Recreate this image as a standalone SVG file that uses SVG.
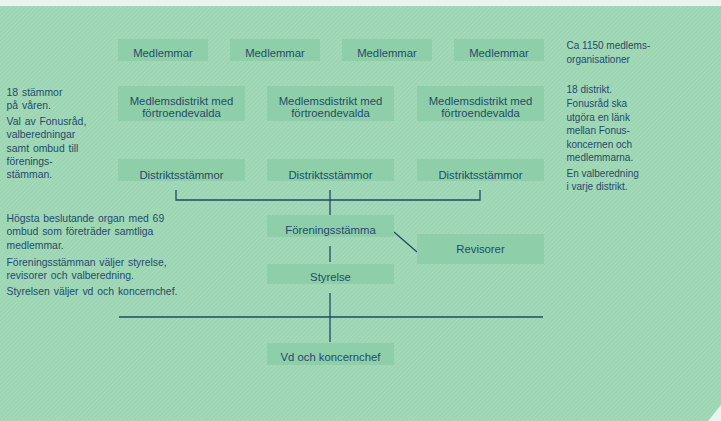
<svg xmlns="http://www.w3.org/2000/svg" width="721" height="421" viewBox="0 0 721 421">
<defs>
<pattern id="hatch" width="3" height="3" patternUnits="userSpaceOnUse" patternTransform="rotate(45)">
<rect width="3" height="3" fill="#9cd5b2"/>
<rect width="1" height="3" fill="#a6dabb"/>
</pattern>
<style>
.box{fill:#8ecfa9}
.lbl{font-family:"Liberation Sans",Arial,sans-serif;font-size:11.3px;fill:#1f4b6c;text-anchor:middle}
.note{font-family:"Liberation Sans",Arial,sans-serif;font-size:10px;fill:#1f4b6c}
.lnote{font-family:"Liberation Sans",Arial,sans-serif;font-size:10.4px;fill:#1f4b6c;word-spacing:1px}
.ln{stroke:#1f4a6a;stroke-width:1.3;fill:none}
</style>
</defs>
<rect width="721" height="421" fill="url(#hatch)"/>
<rect width="721" height="6" fill="#e8f4ed"/>
<polygon points="708,421 721,405 721,421" fill="#e8f4ed"/>

<g id="connectors">
<polyline class="ln" points="176,190 176,200 480,200 480,190"/>
<line class="ln" x1="330" y1="190" x2="330" y2="215"/>
<line class="ln" x1="394" y1="232" x2="417" y2="252"/>
<line class="ln" x1="330" y1="246" x2="330" y2="262"/>
<line class="ln" x1="330" y1="293" x2="330" y2="342"/>
<line class="ln" x1="119" y1="317" x2="543" y2="317"/>
</g>

<g id="medlemmar1"><rect class="box" x="118" y="39" width="90" height="22"/><text class="lbl" x="163" y="57">Medlemmar</text></g>
<g id="medlemmar2"><rect class="box" x="230" y="39" width="90" height="22"/><text class="lbl" x="275" y="57">Medlemmar</text></g>
<g id="medlemmar3"><rect class="box" x="342" y="39" width="90" height="22"/><text class="lbl" x="387" y="57">Medlemmar</text></g>
<g id="medlemmar4"><rect class="box" x="454" y="39" width="90" height="22"/><text class="lbl" x="499" y="57">Medlemmar</text></g>

<g id="distrikt1"><rect class="box" x="118" y="86" width="127" height="35"/><text class="lbl" x="181.5" y="104.5">Medlemsdistrikt med</text><text class="lbl" x="181.5" y="117">förtroendevalda</text></g>
<g id="distrikt2"><rect class="box" x="267" y="86" width="127" height="35"/><text class="lbl" x="330.5" y="104.5">Medlemsdistrikt med</text><text class="lbl" x="330.5" y="117">förtroendevalda</text></g>
<g id="distrikt3"><rect class="box" x="417" y="86" width="127" height="35"/><text class="lbl" x="480.5" y="104.5">Medlemsdistrikt med</text><text class="lbl" x="480.5" y="117">förtroendevalda</text></g>

<g id="stammor1"><rect class="box" x="118" y="159" width="127" height="22"/><text class="lbl" x="181.5" y="178.5">Distriktsstämmor</text></g>
<g id="stammor2"><rect class="box" x="267" y="159" width="127" height="22"/><text class="lbl" x="330.5" y="178.5">Distriktsstämmor</text></g>
<g id="stammor3"><rect class="box" x="417" y="159" width="127" height="22"/><text class="lbl" x="480.5" y="178.5">Distriktsstämmor</text></g>

<g id="foreningsstamma"><rect class="box" x="267" y="215" width="127" height="22"/><text class="lbl" x="330.5" y="234">Föreningsstämma</text></g>
<g id="revisorer"><rect class="box" x="417" y="234" width="127" height="30"/><text class="lbl" x="480.5" y="253">Revisorer</text></g>
<g id="styrelse"><rect class="box" x="267" y="264" width="127" height="20"/><text class="lbl" x="330.5" y="281">Styrelse</text></g>
<g id="vd"><rect class="box" x="267" y="343" width="127" height="22"/><text class="lbl" x="330.5" y="361">Vd och koncernchef</text></g>

<g id="notes-left-top" class="lnote">
<text x="6.5" y="96">18 stämmor</text>
<text x="6.5" y="109.3">på våren.</text>
<text x="6.5" y="125">Val av Fonusråd,</text>
<text x="6.5" y="138.3">valberedningar</text>
<text x="6.5" y="151.6">samt ombud till</text>
<text x="6.5" y="165">förenings-</text>
<text x="6.5" y="178.3">stämman.</text>
</g>
<g id="notes-left-bottom" class="lnote">
<text x="6.5" y="222">Högsta beslutande organ med 69</text>
<text x="6.5" y="235.3">ombud som företräder samtliga</text>
<text x="6.5" y="248.6">medlemmar.</text>
<text x="6.5" y="265.6">Föreningsstämman väljer styrelse,</text>
<text x="6.5" y="279">revisorer och valberedning.</text>
<text x="6.5" y="295">Styrelsen väljer vd och koncernchef.</text>
</g>
<g id="notes-right" class="note">
<text x="566.5" y="49.3">Ca 1150 medlems-</text>
<text x="566.5" y="62.5">organisationer</text>
<text x="566.5" y="93.3">18 distrikt.</text>
<text x="566.5" y="107.3">Fonusråd ska</text>
<text x="566.5" y="121">utgöra en länk</text>
<text x="566.5" y="134.3">mellan Fonus-</text>
<text x="566.5" y="147.7">koncernen och</text>
<text x="566.5" y="161">medlemmarna.</text>
<text x="566.5" y="176.7">En valberedning</text>
<text x="566.5" y="190.3">i varje distrikt.</text>
</g>
</svg>
